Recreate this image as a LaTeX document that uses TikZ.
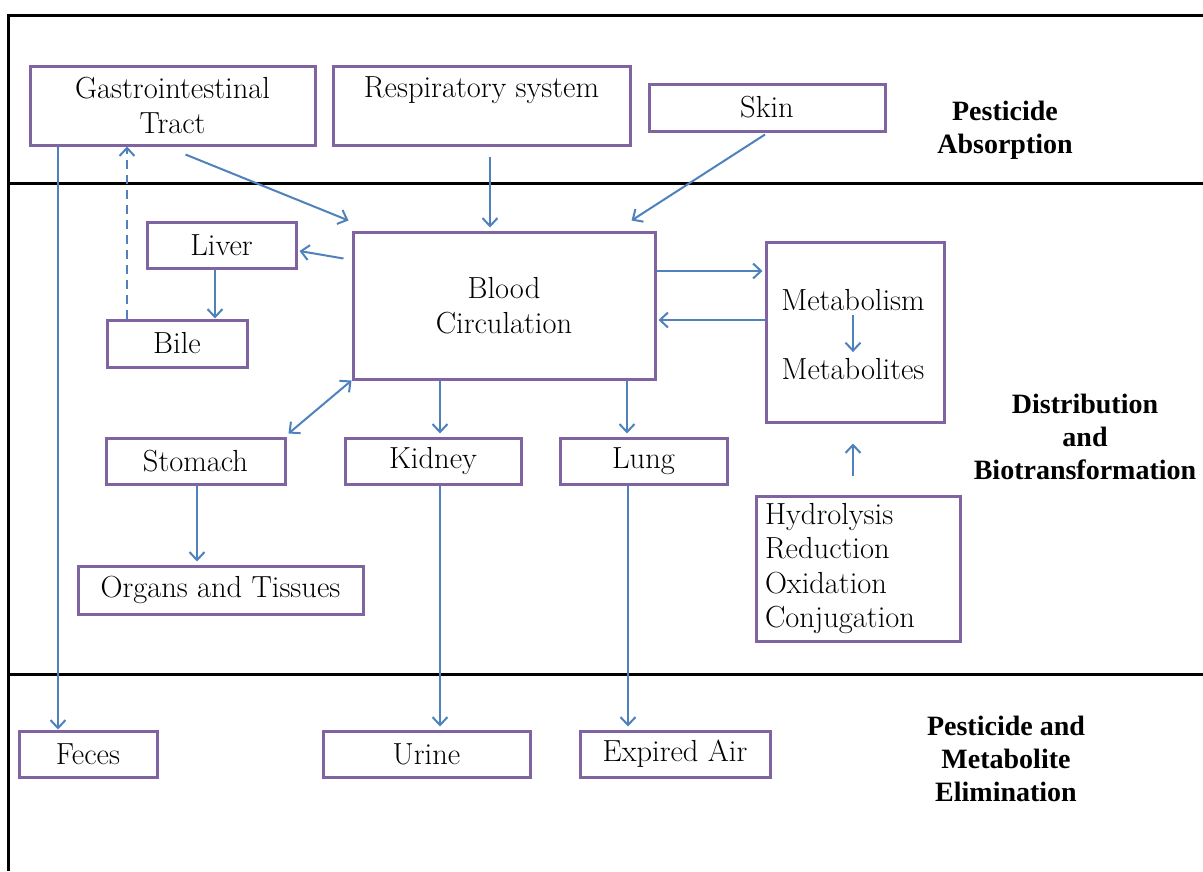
\documentclass[tikz,border=0pt]{standalone}
\usepackage{fontspec}
\newfontfamily\lbfont{Liberation Serif}
\usetikzlibrary{arrows.meta}
\definecolor{boxc}{RGB}{128,100,162}
\definecolor{arrc}{RGB}{79,129,189}
\begin{document}
\begin{tikzpicture}[x=1pt,y=-1pt,
  box/.style={draw=boxc, line width=3pt, rectangle, inner sep=0pt,
    font=\fontsize{30.5}{34.5}\selectfont, align=center},
  txt/.style={inner sep=0pt, font=\fontsize{30.5}{34.5}\selectfont, align=center},
  tip/.tip={Straight Barb[length=8pt,width=15pt,line width=2pt]},
  arr/.style={draw=arrc, line width=2pt, -tip},
  lbl/.style={font=\lbfont\bfseries\fontsize{28}{33}\selectfont, align=center, inner sep=0pt},
  framel/.style={line width=3pt, black}]
\useasboundingbox (0,0) rectangle (1203,871);
% frame
\draw[framel] (1203,15) -- (8,15) -- (8,871);
\draw[framel] (8,183) -- (1203,183);
\draw[framel] (8,674) -- (1203,674);
% boxes
\node[box, minimum width=285pt, minimum height=79pt] (gi) at (172.5,105.5) {Gastrointestinal\\Tract};
\node[box, minimum width=297pt, minimum height=79pt,
  label={[txt, anchor=north, yshift=-12pt]north:Respiratory system}] (resp) at (481.5,105.5) {};
\node[box, minimum width=236pt, minimum height=47pt] (skin) at (767,107.5) {Skin};
\node[box, minimum width=149pt, minimum height=46pt] (liver) at (221.5,245) {Liver};
\node[box, minimum width=140pt, minimum height=47pt] (bile) at (177,343.5) {Bile};
\node[box, minimum width=302pt, minimum height=147pt] (blood) at (504,305.5) {Blood\\Circulation};
\node[box, minimum width=178pt, minimum height=180pt] (metab) at (855,332) {};
\node[txt] (metabolism) at (853,300) {Metabolism};
\node[txt] (metabolites) at (853,369) {Metabolites};
\node[box, minimum width=179pt, minimum height=46pt] (stomach) at (195.5,461) {Stomach};
\node[box, minimum width=176pt, minimum height=46pt] (kidney) at (433,461) {Kidney};
\node[box, minimum width=167pt, minimum height=46pt] (lung) at (643.5,461) {Lung};
\node[box, minimum width=285pt, minimum height=48pt] (organs) at (220.5,590) {Organs and Tissues};
\node[box, minimum width=204pt, minimum height=145pt, align=left, text width=186pt, inner xsep=9pt] (hydro) at (858,568.5) {Hydrolysis\\Reduction\\Oxidation\\Conjugation};
\node[box, minimum width=138pt, minimum height=46pt] (feces) at (88,754) {Feces};
\node[box, minimum width=207pt, minimum height=46pt] (urine) at (426.5,754) {Urine};
\node[box, minimum width=190pt, minimum height=46pt] (expired) at (675,754) {Expired Air};
% labels
\node[lbl] (absorb) at (1005,130) {Pesticide\\Absorption};
\node[lbl] (distrib) at (1085,437) {Distribution\\and\\Biotransformation};
\node[lbl] (elim) at (1006,759) {Pesticide and\\Metabolite\\Elimination};
% arrows
\draw[arr] ([xshift=29.5pt]gi.south west) -- ([xshift=40.5pt]feces.north west);
\draw[arr, dash pattern=on 9pt off 6pt] ([xshift=21.5pt]bile.north west) -- ([xshift=98.5pt]gi.south west);
\draw[arr] ([xshift=157pt,yshift=-8pt]gi.south west) -- ([xshift=-3pt,yshift=10pt]blood.north west);
\draw[arr] ([xshift=8.5pt,yshift=-10pt]resp.south) -- ([xshift=-14pt,yshift=3pt]blood.north);
\draw[arr] ([xshift=-2pt,yshift=-2pt]skin.south) -- ([xshift=-25pt,yshift=10pt]blood.north east);
\draw[arr] ([xshift=-8pt,yshift=-28pt]blood.north west) -- ([xshift=2pt,yshift=-6pt]liver.east);
\draw[arr] ([xshift=-6.5pt]liver.south) -- ([xshift=38pt]bile.north);
\draw[arr, tip-tip] (blood.south west) -- ([xshift=2pt,yshift=3pt]stomach.north east);
\draw[arr] ([xshift=-64pt]blood.south) -- ([xshift=7pt,yshift=3pt]kidney.north);
\draw[arr] ([xshift=123pt]blood.south) -- ([xshift=-16.5pt,yshift=3pt]lung.north);
\draw[arr] ([yshift=34.5pt]blood.east) -- ([yshift=61pt,xshift=-2pt]metab.west);
\draw[arr] ([yshift=12pt]metab.west) -- ([yshift=-14.5pt,xshift=2pt]blood.east);
\draw[arr] ([xshift=-5pt,yshift=19pt]hydro.north) -- ([xshift=-2pt,yshift=-20pt]metab.south);
\draw[arr, line width=1.6pt] ([yshift=-4pt]metabolism.south) -- ([yshift=6pt]metabolites.north);
\draw[arr] ([xshift=1.5pt]stomach.south) -- ([xshift=-23.5pt,yshift=3pt]organs.north);
\draw[arr] ([xshift=7pt]kidney.south) -- ([xshift=13.5pt,yshift=3pt]urine.north);
\draw[arr] ([xshift=-15.5pt]lung.south) -- ([xshift=-47pt,yshift=3pt]expired.north);
\end{tikzpicture}
\end{document}
